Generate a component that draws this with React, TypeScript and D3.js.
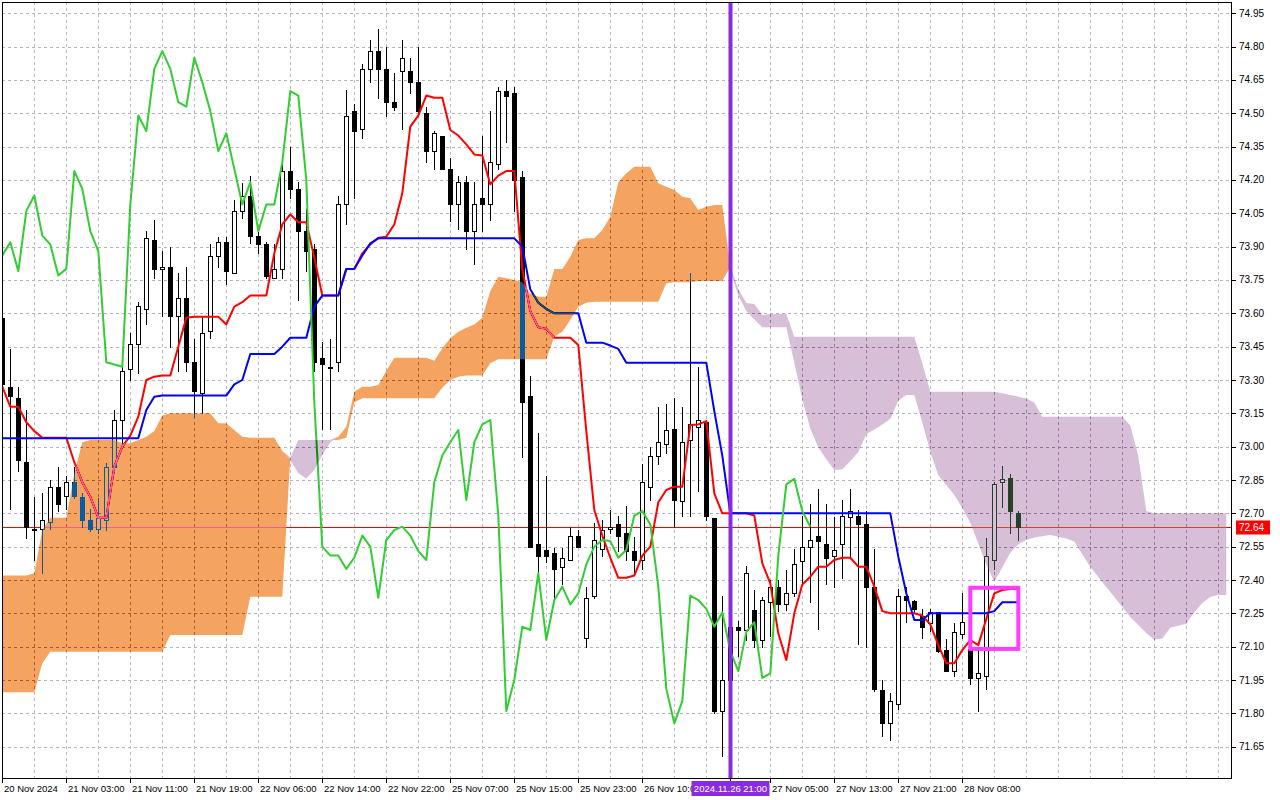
import React from 'react';
import * as d3 from 'd3';

// ---------- Candles (H1), bar index 0..127 ----------
const opens = [73.58,73.27,73.22,72.93,72.63,72.63,72.66,72.82,72.78,72.84,
 72.775,72.67,72.63,72.67,72.91,73.12,73.35,73.46,73.62,73.93,
 73.80,73.81,73.59,73.67,73.38,73.24,73.52,73.86,73.92,73.78,
 74.06,74.13,73.95,73.91,73.76,73.80,74.24,74.16,73.97,73.89,
 73.40,73.36,73.38,74.09,74.51,74.43,74.70,74.78,74.70,74.55,
 74.69,74.69,74.64,74.50,74.33,74.40,74.25,74.09,74.19,73.97,
 74.12,74.09,74.27,74.60,74.59,74.215,73.23,72.56,72.535,72.52,
 72.46,72.49,72.60,72.14,72.33,72.54,72.63,72.65,72.61,72.53,
 72.49,72.82,72.96,73.01,73.08,72.755,73.03,73.09,73.11,72.68,
 71.81,71.95,72.19,72.175,72.265,72.13,72.30,72.37,72.29,72.34,
 72.485,72.55,72.60,72.56,72.51,72.56,72.685,72.69,72.65,72.37,
 71.905,71.755,71.84,72.33,72.305,72.24,72.205,72.255,72.085,71.99,
 72.155,72.09,71.96,71.97,72.49,72.84,72.86,72.70];

const highs = [73.60,73.44,73.27,73.165,72.775,72.79,72.85,72.91,72.87,72.91,
 72.79,72.72,72.77,72.925,73.165,73.36,73.51,73.65,73.97,74.02,
 73.88,73.90,73.78,73.81,73.485,73.59,73.91,73.945,73.945,74.11,
 74.185,74.22,73.97,73.92,73.91,74.275,74.35,74.19,74.07,73.91,
 73.47,73.485,74.13,74.605,74.54,74.72,74.83,74.88,74.80,74.68,
 74.83,74.75,74.80,74.53,74.42,74.40,74.30,74.22,74.22,74.19,
 74.40,74.51,74.62,74.65,74.62,74.24,73.32,73.06,72.87,72.545,
 72.545,72.64,72.625,72.37,72.655,72.67,72.715,72.69,72.735,72.595,
 72.92,73.00,73.18,73.19,73.22,73.18,73.78,73.36,73.12,72.68,
 72.33,72.25,72.215,72.465,72.355,72.325,72.40,72.40,72.445,72.54,
 72.69,72.74,72.81,72.74,72.685,72.76,72.81,72.715,72.71,72.54,
 71.95,71.89,72.36,72.37,72.31,72.27,72.27,72.255,72.135,72.205,
 72.34,72.09,72.085,72.59,72.84,72.915,72.875,72.71];

const lows = [73.26,72.72,72.89,72.59,72.49,72.43,72.63,72.71,72.72,72.77,
 72.64,72.62,72.61,72.625,72.88,73.00,73.30,73.33,73.55,73.76,
 73.59,73.45,73.34,73.34,73.135,73.15,73.49,73.81,73.73,73.78,
 74.03,73.915,73.87,73.76,73.76,73.76,74.12,73.66,73.79,73.34,
 73.08,73.08,73.34,74.00,74.12,74.39,74.64,74.57,74.49,74.515,
 74.43,74.59,74.49,74.28,74.25,74.25,74.015,73.98,73.89,73.82,
 73.97,74.02,74.25,74.37,74.06,72.955,72.55,72.43,72.48,72.32,
 72.38,72.49,72.55,72.10,72.32,72.51,72.61,72.53,72.49,72.43,
 72.45,72.76,72.92,72.97,72.64,72.69,72.69,72.80,72.67,71.80,
 71.61,71.90,72.06,72.13,72.10,72.10,72.15,72.26,72.265,72.33,
 72.385,72.30,72.18,72.38,72.37,72.41,72.50,72.11,72.10,71.90,
 71.70,71.68,71.82,72.21,72.25,72.14,72.17,72.075,71.99,71.97,
 72.14,71.93,71.81,71.91,72.45,72.73,72.61,72.58];

const closes = [73.28,73.23,72.94,72.64,72.63,72.67,72.82,72.74,72.84,72.78,
 72.67,72.63,72.68,72.91,73.12,73.34,73.46,73.633,73.94,73.80,
 73.81,73.59,73.67,73.38,73.25,73.51,73.86,73.92,73.79,74.06,
 74.13,73.95,73.91,73.77,73.80,74.24,74.16,73.97,73.88,73.38,
 73.37,73.36,74.09,74.49,74.42,74.70,74.78,74.70,74.55,74.53,
 74.75,74.64,74.51,74.33,74.41,74.25,74.09,74.19,73.97,74.09,
 74.09,74.28,74.60,74.58,74.20,73.20,72.55,72.51,72.51,72.45,
 72.50,72.60,72.55,72.32,72.58,72.625,72.64,72.60,72.53,72.49,
 72.84,72.96,73.02,73.075,72.76,73.02,73.10,73.12,72.69,71.81,
 71.95,72.19,72.175,72.43,72.13,72.31,72.37,72.29,72.34,72.47,
 72.55,72.58,72.575,72.50,72.535,72.69,72.71,72.65,72.37,71.91,
 71.755,71.855,72.33,72.31,72.27,72.19,72.255,72.08,71.99,72.165,
 72.21,71.96,71.98,72.51,72.83,72.855,72.71,72.64];

// ---------- Ichimoku lines ----------
const tenkan = [73.27,73.18,73.18,73.11,73.07,73.04,73.04,73.04,73.04,72.93,
 72.84,72.775,72.68,72.68,72.91,73.00,73.05,73.135,73.30,73.315,
 73.32,73.32,73.45,73.58,73.585,73.585,73.585,73.585,73.55,73.63,
 73.65,73.68,73.68,73.68,73.87,74.00,74.045,74.01,74.01,73.85,
 73.68,73.68,73.68,73.80,73.80,73.87,73.91,73.94,73.945,74.00,
 74.14,74.44,74.49,74.58,74.57,74.57,74.425,74.40,74.36,74.315,
 74.31,74.18,74.22,74.24,74.24,73.80,73.61,73.537,73.53,73.49,
 73.49,73.49,73.457,73.07,72.715,72.60,72.50,72.41,72.41,72.42,
 72.51,72.55,72.75,72.805,72.82,72.82,73.097,73.10,73.115,72.79,
 72.70,72.70,72.70,72.70,72.69,72.475,72.385,72.16,72.04,72.25,
 72.38,72.415,72.46,72.46,72.49,72.50,72.50,72.46,72.46,72.37,
 72.26,72.25,72.25,72.25,72.25,72.24,72.20,72.107,72.025,72.025,
 72.085,72.13,72.107,72.225,72.34,72.355,72.36,72.36];

const kijun = [73.0375,73.0375,73.0375,73.0375,73.0375,73.0375,73.0375,73.0375,73.0375,73.0375,
 73.0375,73.0375,73.0375,73.0375,73.0375,73.0375,73.0375,73.0375,73.165,73.225,
 73.23,73.23,73.23,73.23,73.23,73.23,73.23,73.23,73.23,73.28,
 73.30,73.417,73.417,73.417,73.417,73.45,73.49,73.49,73.49,73.63,
 73.68,73.68,73.68,73.80,73.80,73.86,73.915,73.9375,73.9375,73.9375,
 73.9375,73.9375,73.9375,73.9375,73.9375,73.9375,73.9375,73.9375,73.9375,73.9375,
 73.9375,73.9375,73.9375,73.9375,73.9375,73.90,73.708,73.648,73.62,73.60,
 73.60,73.60,73.60,73.468,73.468,73.468,73.455,73.44,73.378,73.378,
 73.378,73.378,73.378,73.378,73.378,73.378,73.378,73.378,73.378,73.16,
 72.96,72.70,72.70,72.70,72.70,72.70,72.70,72.70,72.70,72.70,
 72.70,72.70,72.70,72.70,72.70,72.70,72.70,72.70,72.70,72.70,
 72.70,72.70,72.505,72.34,72.22,72.22,72.25,72.25,72.25,72.25,
 72.25,72.25,72.25,72.25,72.26,72.30,72.30,72.30];

const chikou = [73.86,73.92,73.79,74.06,74.13,73.95,73.91,73.77,73.80,74.24,
 74.16,73.97,73.88,73.38,73.37,73.36,74.09,74.49,74.42,74.70,
 74.78,74.70,74.55,74.53,74.75,74.64,74.51,74.33,74.41,74.25,
 74.09,74.19,73.97,74.09,74.09,74.28,74.60,74.58,74.20,73.20,
 72.55,72.51,72.51,72.45,72.50,72.60,72.55,72.32,72.58,72.625,
 72.64,72.60,72.53,72.49,72.84,72.96,73.02,73.075,72.76,73.02,
 73.10,73.12,72.69,71.81,71.95,72.19,72.175,72.43,72.13,72.31,
 72.37,72.29,72.34,72.47,72.55,72.58,72.575,72.50,72.535,72.69,
 72.71,72.65,72.37,71.91,71.755,71.855,72.33,72.31,72.27,72.19,
 72.255,72.08,71.99,72.165,72.21,71.96,71.98,72.51,72.83,72.855,
 72.71,72.64];

// Senkou spans, bar index 0..153 (shifted 26 bars forward)
const spanA = [72.42,72.42,72.42,72.42,72.43,72.625,72.68,72.68,72.68,72.88,
 73.02,73.03,73.03,73.03,73.03,73.015,73.015,73.03,73.045,73.07,
 73.14,73.15,73.15,73.15,73.15,73.15,73.15,73.105,73.105,73.075,
 73.045,73.04,73.04,73.04,73.04,72.98,72.94,72.88,72.857,72.895,
 72.9625,73.02,73.045,73.09,73.247,73.27,73.27,73.277,73.34,73.40,
 73.40,73.40,73.40,73.40,73.387,73.443,73.4875,73.5175,73.535,73.55,
 73.58,73.70,73.765,73.758,73.75,73.74,73.69,73.675,73.675,73.80,
 73.80,73.855,73.93,73.9375,73.9375,73.975,74.035,74.19,74.23,74.26,
 74.26,74.26,74.185,74.17,74.155,74.125,74.118,74.065,74.08,74.0875,
 74.0875,73.79,73.68,73.61,73.572,73.537,73.537,73.537,73.537,73.376,
 73.215,73.081,72.997,72.943,72.895,72.898,72.934,72.976,73.056,73.077,
 73.10,73.125,73.207,73.2325,73.2325,73.108,72.976,72.871,72.828,72.783,
 72.724,72.658,72.564,72.47,72.3925,72.456,72.523,72.561,72.58,72.591,
 72.597,72.602,72.595,72.587,72.573,72.516,72.459,72.414,72.369,72.324,
 72.279,72.234,72.198,72.162,72.131,72.137,72.185,72.194,72.203,72.255,
 72.297,72.324,72.3325,72.3325];

const spanB = [71.895,71.895,71.895,71.895,71.895,72.025,72.077,72.077,72.077,72.077,
 72.077,72.077,72.077,72.077,72.077,72.077,72.077,72.077,72.077,72.077,
 72.077,72.152,72.152,72.152,72.152,72.152,72.152,72.152,72.152,72.152,
 72.152,72.325,72.325,72.325,72.325,72.325,72.95,73.03,73.03,73.03,
 73.03,73.03,73.03,73.04,73.20,73.218,73.218,73.218,73.218,73.218,
 73.218,73.218,73.218,73.218,73.218,73.265,73.30,73.315,73.32,73.32,
 73.32,73.375,73.393,73.393,73.393,73.393,73.393,73.393,73.393,73.495,
 73.5175,73.57,73.63,73.648,73.6525,73.6525,73.6525,73.6525,73.6525,73.6525,
 73.6525,73.6525,73.6525,73.735,73.74,73.74,73.74,73.745,73.745,73.745,
 73.745,73.81,73.71,73.646,73.642,73.593,73.597,73.597,73.597,73.495,
 73.495,73.495,73.495,73.495,73.495,73.495,73.495,73.495,73.495,73.495,
 73.495,73.495,73.495,73.495,73.495,73.375,73.2475,73.2475,73.2475,73.2475,
 73.2475,73.2475,73.2475,73.2475,73.2475,73.24,73.2325,73.225,73.217,73.199,
 73.135,73.135,73.135,73.135,73.135,73.135,73.135,73.135,73.135,73.135,
 73.135,73.095,72.957,72.711,72.70,72.70,72.70,72.70,72.70,72.70,
 72.70,72.70,72.70,72.70];

// ---------- Axes ----------
const priceTicks = [71.65,71.80,71.95,72.10,72.25,72.40,72.55,72.70,72.85,73.00,73.15,73.30,
 73.45,73.60,73.75,73.90,74.05,74.20,74.35,74.50,74.65,74.80,74.95];
const labelBars = [0,8,16,24,32,40,48,56,64,72,80,96,104,112,120];
const labelTexts = ["20 Nov 2024","21 Nov 03:00","21 Nov 11:00","21 Nov 19:00","22 Nov 06:00",
 "22 Nov 14:00","22 Nov 22:00","25 Nov 07:00","25 Nov 15:00","25 Nov 23:00","26 Nov 10:00",
 "27 Nov 05:00","27 Nov 13:00","27 Nov 21:00","28 Nov 08:00"];
const markerBar = 91;
const markerText = "2024.11.26 21:00";
const lastPrice = 72.64;
const boxBars = [121, 127];
const boxPrices = [72.365, 72.09];

const FONT = "'Liberation Sans', Arial, sans-serif";

export default function App() {
  const PL = 2, PR = 1232, PT = 2, PB = 778;
  const x = d3.scaleLinear().domain([0, 153]).range([2.3, 2.3 + 8 * 153]);
  const y = d3.scaleLinear().domain([71.65, 74.95]).range([746.67, 13.33]);
  const px = (i: number) => Math.floor(x(i));

  const line = d3.line<number>().x((_, i) => x(i)).y((d) => y(d));
  const orange = d3.area<number>()
    .x((_, i) => x(i))
    .y0((_, i) => y(spanB[i]))
    .y1((_, i) => y(Math.max(spanA[i], spanB[i])));
  const thistle = d3.area<number>()
    .x((_, i) => x(i))
    .y0((_, i) => y(spanA[i]))
    .y1((_, i) => y(Math.max(spanA[i], spanB[i])));

  const gridBars = d3.range(4, 154, 4);
  const yLast = Math.round(y(lastPrice)) + 0.5;
  const mX = px(markerBar) + 0.5;

  return (
    <div style={{ position: 'absolute', left: 0, top: 0 }}>
      <svg width={1280} height={800} style={{ display: 'block' }}>
        <defs>
          <clipPath id="plot">
            <rect x={PL} y={PT} width={PR - PL} height={PB - PT} />
          </clipPath>
        </defs>
        <rect x={0} y={0} width={1280} height={800} fill="#fff" />
        <g clipPath="url(#plot)" style={{ isolation: 'isolate' }}>
          <rect x={0} y={0} width={1280} height={800} fill="#fff" />
          {/* grid */}
          {priceTicks.map((p) => (
            <line key={'h' + p} x1={PL} x2={PR} y1={Math.round(y(p)) + 0.5} y2={Math.round(y(p)) + 0.5}
              stroke="#b9b2c2" strokeWidth={1} strokeDasharray="3 3" />
          ))}
          {gridBars.map((b) => (
            <line key={'v' + b} x1={px(b) + 0.5} x2={px(b) + 0.5} y1={PT} y2={PB}
              stroke="#c2b4c6" strokeWidth={1} strokeDasharray="3 3" />
          ))}
          {/* current price line */}
          <line x1={PL} x2={PR} y1={yLast} y2={yLast} stroke="#ff0000" strokeWidth={1} />
          {/* candles */}
          {opens.map((o, i) => {
            const c = closes[i];
            const X = px(i);
            const yh = Math.round(y(highs[i]));
            const yl = Math.round(y(lows[i]));
            const yt = Math.round(y(Math.max(o, c)));
            const yb = Math.round(y(Math.min(o, c)));
            const up = c >= o;
            return (
              <g key={'c' + i}>
                <line x1={X + 0.5} x2={X + 0.5} y1={yh} y2={yl + 1} stroke="#000" strokeWidth={1} />
                {up ? (
                  <rect x={X - 1.5} y={yt + 0.5} width={4} height={Math.max(yb - yt, 1)}
                    fill="#fff" stroke="#000" strokeWidth={1} />
                ) : (
                  <rect x={X - 2} y={yt} width={5} height={Math.max(yb - yt + 1, 2)} fill="#000" />
                )}
              </g>
            );
          })}
          {/* Tenkan, Kijun, Chikou */}
          <path d={line(tenkan) || ''} fill="none" stroke="#ff0000" strokeWidth={2} strokeLinejoin="round" />
          <path d={line(kijun) || ''} fill="none" stroke="#0000ff" strokeWidth={2} strokeLinejoin="round" />
          <path d={line(chikou) || ''} fill="none" stroke="#32cd32" strokeWidth={2} strokeLinejoin="round" />
          {/* Kumo drawn as inverted fill (like the terminal) */}
          <g style={{ mixBlendMode: 'difference' }}>
            <path d={orange(spanA) || ''} fill="#0b5b9f" />
            <path d={thistle(spanA) || ''} fill="#274027" />
          </g>
          {/* vertical marker line */}
          <line x1={mX} x2={mX} y1={PT} y2={PB} stroke="#8a2be2" strokeWidth={4} />
          {/* rectangle object */}
          <rect x={x(boxBars[0])} y={y(boxPrices[0])} width={x(boxBars[1]) - x(boxBars[0])}
            height={y(boxPrices[1]) - y(boxPrices[0])} fill="none" stroke="#ff3cff" strokeWidth={4} />
        </g>
        {/* frame */}
        <rect x={PL + 0.5} y={PT + 0.5} width={PR - PL - 1} height={PB - PT} fill="none" stroke="#000" strokeWidth={1} />
        {/* price axis */}
        {priceTicks.map((p) => (
          <g key={'t' + p}>
            <line x1={PR} x2={PR + 4} y1={Math.round(y(p)) + 0.5} y2={Math.round(y(p)) + 0.5} stroke="#000" />
            <text x={PR + 7} y={y(p) + 3.5} fontSize={10} fontFamily={FONT} fill="#000">{p.toFixed(2)}</text>
          </g>
        ))}
        <rect x={PR + 4} y={yLast - 7} width={34} height={14} fill="#ff0000" />
        <text x={PR + 7} y={yLast + 3.5} fontSize={10} fontFamily={FONT} fill="#fff">{lastPrice.toFixed(2)}</text>
        {/* time axis */}
        {labelBars.map((b, k) => (
          <g key={'l' + b}>
            <line x1={px(b) + 0.5} x2={px(b) + 0.5} y1={PB} y2={PB + 5} stroke="#000" />
            <text x={px(b) + 2} y={792} fontSize={9.5} fontFamily={FONT} fill="#000">{labelTexts[k]}</text>
          </g>
        ))}
        <line x1={mX} x2={mX} y1={PB} y2={PB + 5} stroke="#000" />
        <rect x={mX - 39} y={781} width={78} height={15} fill="#8a2be2" />
        <text x={mX} y={792} fontSize={9.5} fontFamily={FONT} fill="#fff" textAnchor="middle">{markerText}</text>
      </svg>
    </div>
  );
}
